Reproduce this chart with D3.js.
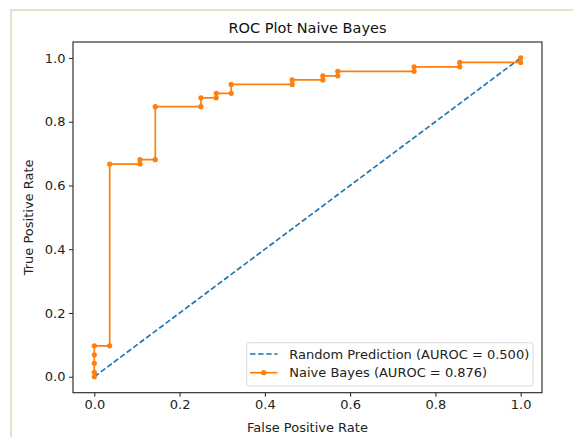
<!DOCTYPE html>
<html><head><meta charset="utf-8">
<script src="https://cdn.jsdelivr.net/npm/d3@7"></script>
<style>body{margin:0;background:#fff;}svg{display:block;font-family:"DejaVu Sans",sans-serif;}</style>
</head><body>
<svg id="c" width="573" height="437"></svg>
<script>
const title = "ROC Plot Naive Bayes";
const xLabel = "False Positive Rate";
const yLabel = "True Positive Rate";
const tickValues = [0.0, 0.2, 0.4, 0.6, 0.8, 1.0];
const randomFpr = [0, 1];
const randomTpr = [0, 1];
const nbFpr = [0, 0, 0, 0, 0, 0.036, 0.036, 0.107, 0.107, 0.143, 0.143, 0.25, 0.25, 0.286, 0.286, 0.321, 0.321, 0.464, 0.464, 0.536, 0.536, 0.571, 0.571, 0.75, 0.75, 0.857, 0.857, 1.0, 1.0];
const nbTpr = [0, 0.014, 0.042, 0.069, 0.097, 0.097, 0.667, 0.667, 0.681, 0.681, 0.847, 0.847, 0.875, 0.875, 0.889, 0.889, 0.917, 0.917, 0.931, 0.931, 0.944, 0.944, 0.958, 0.958, 0.972, 0.972, 0.986, 0.986, 1.0];
const legendLabels = ["Random Prediction (AUROC = 0.500)", "Naive Bayes (AUROC = 0.876)"];
const colors = ["#1f77b4", "#ff7f0e"];

const svg = d3.select("#c");
svg.append("line").attr("x1",10).attr("x2",573).attr("y1",10).attr("y2",10).attr("stroke","#e6e0c8").attr("stroke-width",2);
svg.append("line").attr("x1",11).attr("x2",11).attr("y1",9).attr("y2",437).attr("stroke","#e6e0c8").attr("stroke-width",2);

const L = 73, R = 542, T = 42, B = 392.7;
const x = d3.scaleLinear().domain([-0.05, 1.05]).range([L, R]);
const y = d3.scaleLinear().domain([-0.05, 1.05]).range([B, T]);
const fs = 13;

const xAxis = svg.append("g").attr("transform", `translate(0,${B})`)
  .call(d3.axisBottom(x).tickValues(tickValues).tickFormat(d3.format(".1f")).tickSize(4).tickPadding(3));
const yAxis = svg.append("g").attr("transform", `translate(${L},0)`)
  .call(d3.axisLeft(y).tickValues(tickValues).tickFormat(d3.format(".1f")).tickSize(4).tickPadding(3.5));
[xAxis, yAxis].forEach(g => {
  g.select(".domain").remove();
  g.selectAll("text").attr("font-size", fs).attr("font-family", "DejaVu Sans").attr("fill", "#222");
  g.selectAll("line").attr("stroke", "#222").attr("stroke-width", 1);
});

const lineGen = d3.line().x(d => x(d[0])).y(d => y(d[1]));
const plot = svg.append("g");
plot.append("path").datum(randomFpr.map((v,i)=>[v, randomTpr[i]]))
  .attr("d", lineGen).attr("fill","none").attr("stroke",colors[0]).attr("stroke-width",1.7)
  .attr("stroke-dasharray","5.5,2.6");
const nbPts = nbFpr.map((v,i)=>[v, nbTpr[i]]);
plot.append("path").datum(nbPts).attr("d", lineGen).attr("fill","none").attr("stroke",colors[1]).attr("stroke-width",1.7);
plot.selectAll("circle.nb").data(nbPts).join("circle").attr("class","nb")
  .attr("cx", d=>x(d[0])).attr("cy", d=>y(d[1])).attr("r", 2.6).attr("fill", colors[1]);

svg.append("rect").attr("x",L).attr("y",T).attr("width",R-L).attr("height",B-T)
  .attr("fill","none").attr("stroke","#222").attr("stroke-width",1.1);

svg.append("text").attr("x",(L+R)/2).attr("y",32.5).attr("text-anchor","middle")
  .attr("font-size",14.5).attr("fill","#111").text(title);
svg.append("text").attr("x",(L+R)/2).attr("y",431.5).attr("text-anchor","middle")
  .attr("font-size",fs).attr("fill","#222").text(xLabel);
svg.append("text").attr("transform",`translate(33,${(T+B)/2}) rotate(-90)`).attr("text-anchor","middle")
  .attr("font-size",fs).attr("fill","#222").text(yLabel);

const lg = svg.append("g");
lg.append("rect").attr("x",246.7).attr("y",342.7).attr("width",286.3).attr("height",43.3).attr("rx",2.5)
  .attr("fill","#fff").attr("fill-opacity",0.8).attr("stroke","#d9d9d9").attr("stroke-width",1);
const rows = [354, 372.7];
lg.append("line").attr("x1",250).attr("x2",277.5).attr("y1",rows[0]).attr("y2",rows[0])
  .attr("stroke",colors[0]).attr("stroke-width",1.7).attr("stroke-dasharray","5.5,2.6");
lg.append("line").attr("x1",250).attr("x2",277.5).attr("y1",rows[1]).attr("y2",rows[1])
  .attr("stroke",colors[1]).attr("stroke-width",1.7);
lg.append("circle").attr("cx",263.7).attr("cy",rows[1]).attr("r",2.6).attr("fill",colors[1]);
legendLabels.forEach((t,i)=>{
  lg.append("text").attr("x",289.3).attr("y",rows[i]).attr("dy","0.36em").attr("font-size",fs).attr("fill","#222").text(t);
});
</script>
</body></html>
